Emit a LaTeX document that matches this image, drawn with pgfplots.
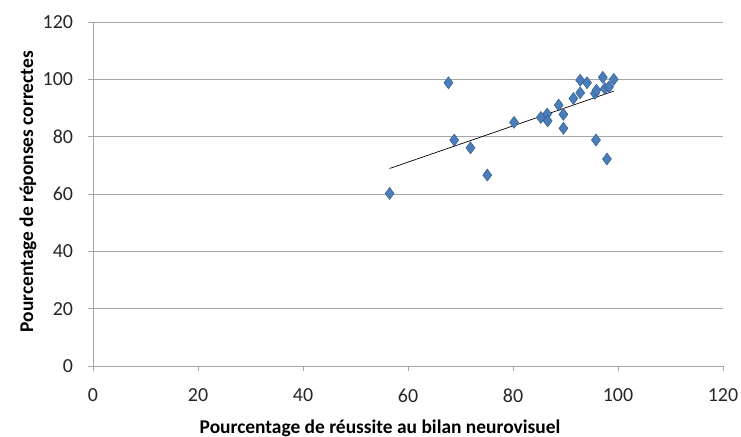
\documentclass[border=0pt]{standalone}
\usepackage{fontspec}
\setmainfont{Carlito}
\usepackage{pgfplots}
\pgfplotsset{compat=1.18}
\definecolor{pt}{HTML}{4A7EBB}
\definecolor{ptd}{HTML}{385D8A}
\definecolor{gridc}{HTML}{A6A6A6}
\begin{document}
\begin{tikzpicture}
\begin{axis}[
  scale only axis,
  width=630bp, height=344bp,
  xmin=0, xmax=120, ymin=0, ymax=120,
  xtick={0,20,...,120}, ytick={0,20,...,120},
  axis lines=left,
  axis line style={draw=gridc, -},
  ymajorgrids, grid style={draw=gridc, line width=0.8pt},
  tick style={draw=gridc, line width=0.8pt},
  tick align=outside, major tick length=5bp,
  /pgf/number format/assume math mode=true,
  ticklabel style={font=\fontsize{20}{24}\selectfont, text=black!85},
  xticklabel style={yshift=-14.5bp},
  yticklabel style={xshift=-11.5bp},
  xlabel={\textbf{Pourcentage de réussite au bilan neurovisuel}},
  ylabel={\textbf{Pourcentage de réponses correctes}},
  label style={font=\fontsize{19.5}{23}\selectfont},
  xlabel style={at={(axis description cs:0.4556,-0.1948)}, anchor=base},
  ylabel style={at={(axis description cs:-0.0952,0.507)}, anchor=base},
  clip=false,
]
\addplot[only marks, mark=diamond*, mark size=6bp, mark options={fill=pt, draw=ptd, line width=0.5pt}] coordinates {
(56.5,60.2) (67.7,98.8) (68.8,78.8) (71.9,76.1) (75.1,66.6) (80.2,85.0)
(85.3,86.7) (86.5,87.9) (86.6,85.5) (88.7,91.0) (89.6,87.8) (89.6,82.9)
(91.5,93.3) (92.8,95.3) (92.8,99.7) (94.1,98.8) (95.8,78.8) (95.6,95.1)
(95.9,96.2) (97.1,100.7) (97.5,96.8) (97.9,72.2) (99.2,100.0) (98.3,97.4)
};
\addplot[black, line width=0.7pt] coordinates {(56.5,68.9) (99.2,95.9)};
\end{axis}
\pgfresetboundingbox
\path (-93bp,-71bp) rectangle (648bp,366bp);
\end{tikzpicture}
\end{document}
